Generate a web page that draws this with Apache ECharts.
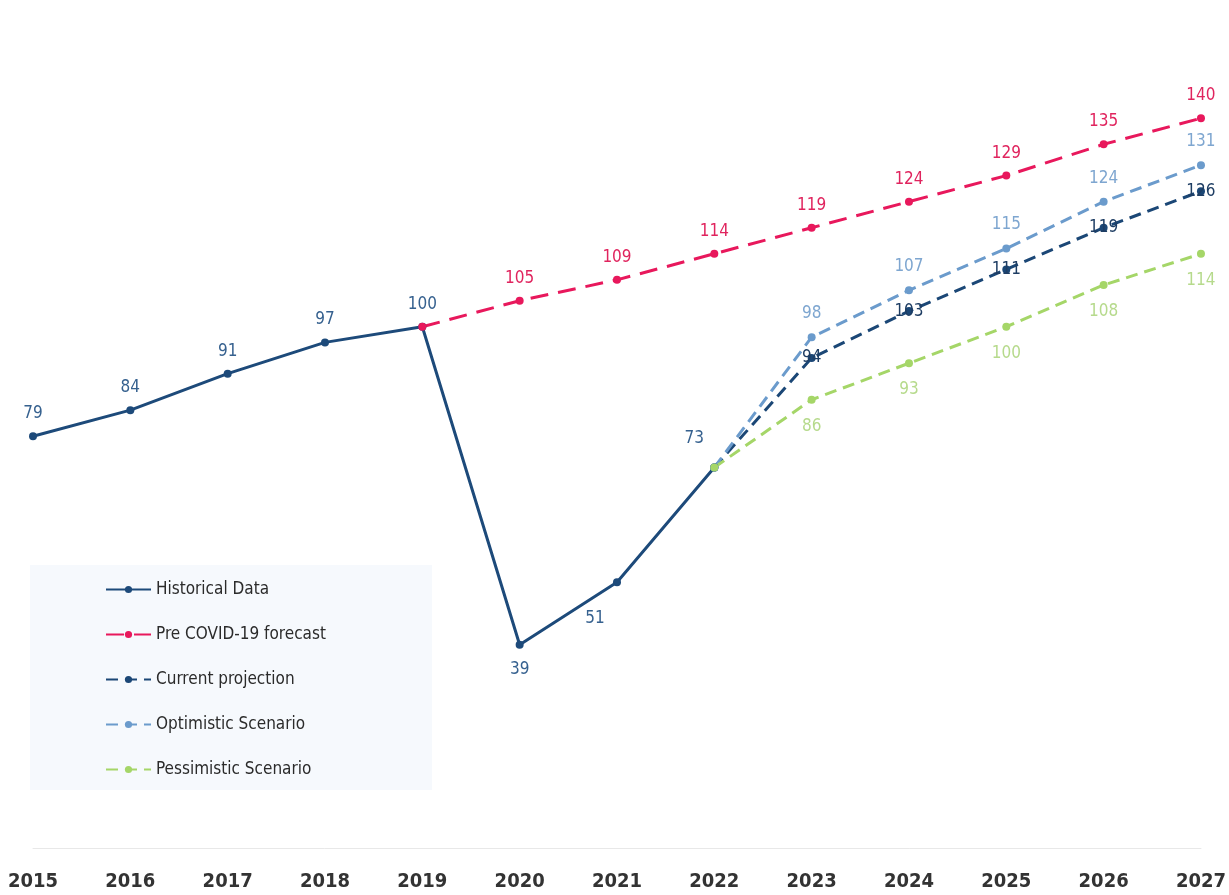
<!DOCTYPE html>
<html>
<head>
<meta charset="utf-8">
<script src="https://cdn.jsdelivr.net/npm/echarts@6/dist/echarts.min.js"></script>
<style>
  html, body { margin: 0; padding: 0; background: #fff; }
  #main { width: 1229px; height: 895px; }
</style>
</head>
<body>
<div id="main"></div>
<script>
var chartDom = document.getElementById('main');
var myChart = echarts.init(chartDom);

// data
let years = ['2015', '2016', '2017', '2018', '2019', '2020', '2021', '2022', '2023', '2024', '2025', '2026', '2027'];
let historical = [79, 84, 91, 97, 100, 39, 51, 73, null, null, null, null, null];
let preCovid = [null, null, null, null, 100, 105, 109, 114, 119, 124, 129, 135, 140];
let current = [null, null, null, null, null, null, null, 73, 94, 103, 111, 119, 126];
let optimistic = [null, null, null, null, null, null, null, 73, 98, 107, 115, 124, 131];
let pessimistic = [null, null, null, null, null, null, null, 73, 86, 93, 100, 108, 114];

let font = "'Liberation Sans Narrow', 'DejaVu Sans Condensed', Roboto, sans-serif";

// hide the label on the first point of a projection (it repeats the history)
function startHidden(arr) {
  let first = arr.findIndex(function (v) { return v !== null; });
  return arr.map(function (v, i) {
    if (v === null) return '-';
    if (i === first) return { value: v, label: { show: false } };
    return v;
  });
}

let histData = historical.map(function (v, i) {
  if (v === null) return '-';
  if (years[i] === '2020') return { value: v, label: { position: 'bottom', distance: 12 } };
  if (years[i] === '2021') return { value: v, label: { position: 'bottom', offset: [-22, 14] } };
  if (years[i] === '2022') return { value: v, label: { offset: [-20, -6] } };
  return v;
});

function lineSeries(name, data, color, labelColor, dash, labelPos, dist) {
  return {
    name: name,
    type: 'line',
    data: data,
    symbol: 'circle',
    symbolSize: 8,
    color: color,
    lineStyle: { width: 3, color: color, type: dash },
    itemStyle: { color: color },
    label: {
      show: true,
      position: labelPos,
      distance: dist,
      color: labelColor,
      fontSize: 17,
      fontFamily: font
    },
    emphasis: { disabled: true },
    animation: false
  };
}

let option = {
  backgroundColor: '#ffffff',
  grid: { left: 33, right: 19, top: 14, bottom: 47 },
  graphic: [{
    type: 'rect',
    left: 30, top: 565,
    shape: { width: 402, height: 225 },
    style: { fill: '#f6f9fd' },
    z: -1
  }],
  legend: {
    orient: 'vertical',
    left: 100,
    top: 576,
    itemWidth: 45,
    itemHeight: 9,
    itemGap: 28,
    textStyle: { fontSize: 17, color: '#2b2b2b', fontFamily: font },
    data: ['Historical Data', 'Pre COVID-19 forecast', 'Current projection', 'Optimistic Scenario', 'Pessimistic Scenario']
  },
  xAxis: {
    type: 'category',
    data: years,
    boundaryGap: false,
    axisLine: { lineStyle: { color: '#e8e8e8', width: 1 } },
    axisTick: { show: false },
    axisLabel: { margin: 24, fontSize: 20, fontWeight: 'bold', color: '#333', fontFamily: font }
  },
  yAxis: {
    type: 'value',
    min: 0,
    max: 160,
    show: false,
    splitLine: { show: false }
  },
  series: [
    lineSeries('Historical Data', histData, '#1d4a7a', '#36618f', 'solid', 'top', 10),
    lineSeries('Pre COVID-19 forecast', startHidden(preCovid), '#e8185c', '#e0245e', [18, 10], 'top', 10),
    lineSeries('Current projection', startHidden(current), '#1b4776', '#1e3d63', [12, 7], 'inside', 0),
    lineSeries('Optimistic Scenario', startHidden(optimistic), '#6b9bcc', '#7ea6d0', [12, 7], 'top', 11),
    lineSeries('Pessimistic Scenario', startHidden(pessimistic), '#a5d668', '#b6da8c', [12, 7], 'bottom', 14)
  ]
};

option && myChart.setOption(option);
</script>
</body>
</html>
